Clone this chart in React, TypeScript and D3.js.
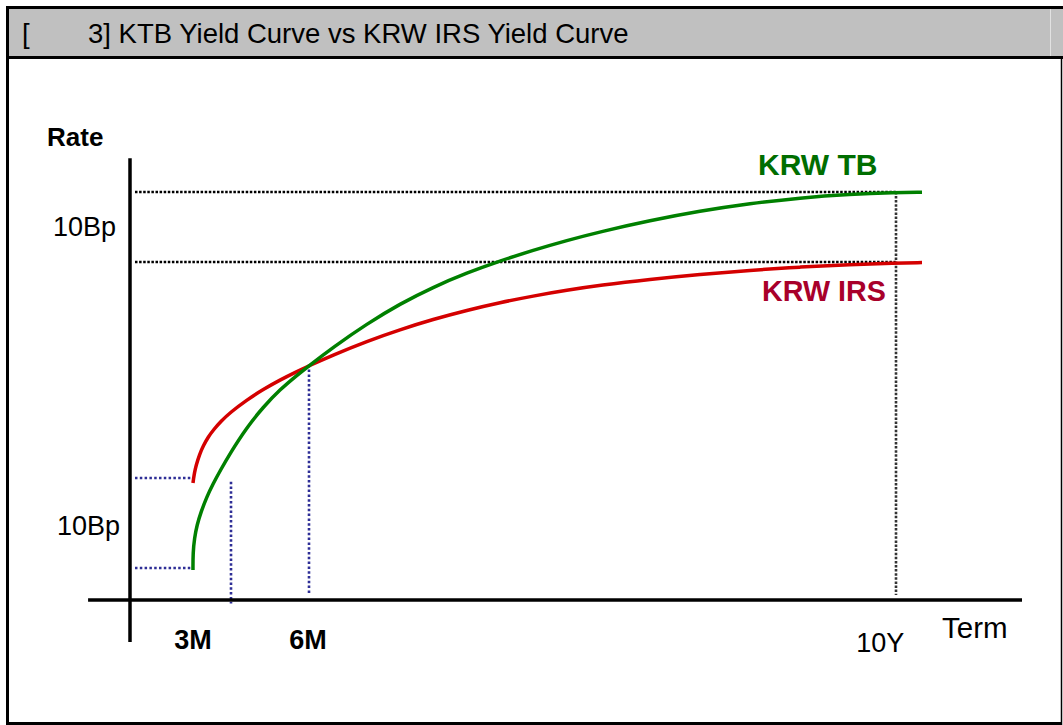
import * as d3 from 'd3'

// term position (schematic axis units) and rate (bp)
const irsCurve: [number, number][] = [
  [7.06, 16.71], [7.11, 17.2], [7.23, 18.21], [7.4, 19.19], [7.79, 20.79], [8.24, 22.1],
  [8.74, 23.23], [9.34, 24.29], [10.2, 25.54], [11.21, 26.76], [13.08, 28.57], [14.94, 30.1],
  [16.82, 31.43], [18.69, 32.63], [19.96, 33.39], [22.76, 35.0], [26.57, 36.97], [30.27, 38.63],
  [33.97, 40.09], [37.78, 41.4], [41.48, 42.49], [45.18, 43.43], [48.99, 44.26], [52.69, 44.96],
  [58.3, 45.81], [63.9, 46.53], [69.51, 47.1], [75.11, 47.57], [80.72, 47.93], [85.76, 48.14],
  [88.79, 48.2],
]

const tbCurve: [number, number][] = [
  [7.06, 4.29], [7.06, 6.71], [7.23, 8.86], [7.51, 10.71], [7.96, 12.57], [8.6, 14.71],
  [9.3, 16.57], [10.09, 18.43], [11.21, 20.93], [13.08, 24.64], [14.94, 27.57], [16.82, 30.07],
  [18.69, 32.07], [19.96, 33.36], [22.76, 36.1], [26.57, 39.46], [30.27, 42.31], [33.97, 44.69],
  [37.78, 46.74], [41.48, 48.44], [45.18, 49.96], [48.99, 51.37], [52.69, 52.6], [58.3, 54.21],
  [63.9, 55.57], [69.51, 56.64], [75.11, 57.46], [80.72, 57.97], [85.76, 58.2], [88.79, 58.24],
]

const tenorLabels = ['3M', '6M', '10Y']
const tenorTerms = [7.06, 19.96, 84.1]

// guide levels
const longLevels = [58.3, 48.3] // 10Y TB, 10Y IRS
const shortLevels = [17.4, 4.6] // 3M IRS, 3M TB
const term10Y = 85.84
const crossRate = 33.6
const gapTerm = 11.32

const title = '3] KTB Yield Curve vs KRW IRS Yield Curve'

export default function App() {
  const W = 1063
  const H = 725
  const x = d3.scaleLinear().domain([0, 100]).range([130, 1022])
  const y = d3.scaleLinear().domain([0, 60]).range([600, 180])

  const line = d3
    .line<[number, number]>()
    .x((d) => x(d[0]))
    .y((d) => y(d[1]))
    .curve(d3.curveBasis)

  const font = '"Liberation Sans", Arial, sans-serif'
  const guideStart = 0.56
  const px = (v: number) => Math.round(v) // snap dotted guides to the pixel grid

  return (
    <svg width={W} height={H} style={{ position: 'absolute', left: 0, top: 0, background: '#fff' }} fontFamily={font}>
      {/* frame + header */}
      <rect x={9} y={9} width={W - 9} height={47} fill="#c0c0c0" />
      <line x1={1050.5} x2={1050.5} y1={9} y2={56} stroke="#e2e2e2" strokeWidth={1} />
      <line x1={6} x2={W} y1={7.5} y2={7.5} stroke="#000" strokeWidth={3} />
      <line x1={7.5} x2={7.5} y1={6} y2={H} stroke="#000" strokeWidth={3} />
      <line x1={6} x2={1062} y1={723.5} y2={723.5} stroke="#000" strokeWidth={3} />
      <line x1={6} x2={W} y1={57.5} y2={57.5} stroke="#000" strokeWidth={3} />
      <line x1={1061.5} x2={1061.5} y1={57} y2={H} stroke="#000" strokeWidth={1.5} />
      <text x={22} y={43} fontSize={27.5} fill="#000">[</text>
      <text x={88} y={43} fontSize={27.5} fill="#000">{title}</text>

      {/* black dotted long-end levels */}
      {longLevels.map((v, i) => (
        <line key={'l' + i} x1={x(guideStart)} x2={x(term10Y)} y1={px(y(v))} y2={px(y(v))}
          stroke="#000" strokeWidth={2.6} strokeDasharray="2.5,1.6" />
      ))}
      <line x1={px(x(term10Y))} x2={px(x(term10Y))} y1={y(longLevels[0])} y2={y(0.7)}
        stroke="#333" strokeWidth={2.6} strokeDasharray="2.5,1.6" />

      {/* blue dotted short-end guides */}
      {shortLevels.map((v, i) => (
        <line key={'s' + i} x1={x(guideStart)} x2={x(6.8)} y1={px(y(v))} y2={px(y(v))}
          stroke="#2e2e96" strokeWidth={2.6} strokeDasharray="2.5,2.3" />
      ))}
      <line x1={px(x(gapTerm))} x2={px(x(gapTerm))} y1={y(16.9)} y2={y(-0.5)}
        stroke="#2e2e96" strokeWidth={2.6} strokeDasharray="2.5,2.3" />
      <line x1={px(x(20.1))} x2={px(x(20.1))} y1={y(crossRate)} y2={y(0.7)}
        stroke="#2e2e96" strokeWidth={2.6} strokeDasharray="2.5,2.3" />

      {/* axes */}
      <line x1={x(-4.7)} x2={x(100)} y1={y(0)} y2={y(0)} stroke="#000" strokeWidth={3.5} />
      <line x1={x(0)} x2={x(0)} y1={y(63.1)} y2={y(-6)} stroke="#000" strokeWidth={3.5} />

      {/* curves */}
      <path d={line(irsCurve) ?? undefined} fill="none" stroke="#d40000" strokeWidth={3.5} />
      <path d={line(tbCurve) ?? undefined} fill="none" stroke="#008000" strokeWidth={3.5} />

      {/* labels */}
      <text x={47} y={146} fontSize={26} fontWeight="bold">Rate</text>
      <text x={53} y={236} fontSize={27}>10Bp</text>
      <text x={57} y={535} fontSize={27}>10Bp</text>
      {tenorLabels.map((t, i) => (
        <text key={t} x={x(tenorTerms[i])} y={t === '10Y' ? 652 : 649} fontSize={27}
          fontWeight={t === '10Y' ? 'normal' : 'bold'} textAnchor="middle">{t}</text>
      ))}
      <text x={942} y={638} fontSize={29.5}>Term</text>
      <text x={758} y={175} fontSize={30} fontWeight="bold" fill="#006e00">KRW TB</text>
      <text x={762} y={301} fontSize={28.7} fontWeight="bold" fill="#a8002a">KRW IRS</text>
    </svg>
  )
}
